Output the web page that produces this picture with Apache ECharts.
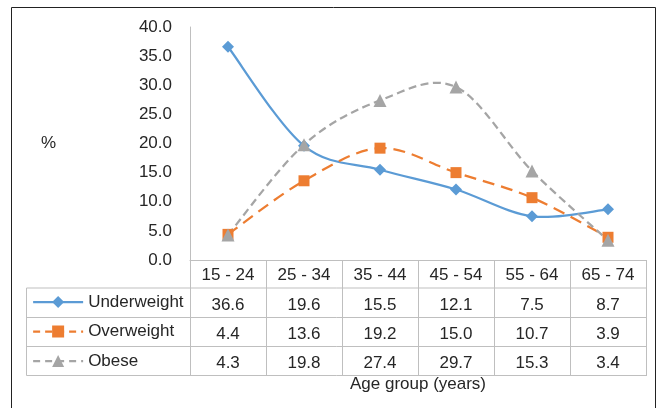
<!DOCTYPE html>
<html><head><meta charset="utf-8">
<script src="https://cdn.jsdelivr.net/npm/echarts@6/dist/echarts.min.js"></script>
<style>html,body{margin:0;padding:0;background:#fff}#c{width:659px;height:408px}</style>
</head><body><div id="c"></div>
<script>
var categories = ['15 - 24','25 - 34','35 - 44','45 - 54','55 - 64','65 - 74'];
var underweight = [36.6, 19.6, 15.5, 12.1, 7.5, 8.7];
var overweight = [4.4, 13.6, 19.2, 15.0, 10.7, 3.9];
var obese = [4.3, 19.8, 27.4, 29.7, 15.3, 3.4];
var yTicks = [0, 5, 10, 15, 20, 25, 30, 35, 40];
var seriesNames = ['Underweight', 'Overweight', 'Obese'];

var FONT = 'Liberation Sans, Arial, sans-serif';
var FS = 17;
var TXT = '#262626';
var GRID = {left: 190, right: 13, top: 27, bottom: 148};
var W = 659, H = 408;
var plotR = W - GRID.right;         // 646
var tableL = 26.5;
var rowLines = [288, 317.5, 346.5, 375.5];
var lineCol = '#BFBFBF';
var COLORS = ['#5B9BD5', '#ED7D31', '#A5A5A5'];
var DASHES = [null, [12, 7], [8, 4.5]];

var chart = echarts.init(document.getElementById('c'), null, {renderer: 'canvas'});

function rowAxis(vals, offset) {
  return {
    type: 'category', data: vals.map(function(v){return v.toFixed(1);}),
    position: 'bottom', offset: offset, gridIndex: 0,
    axisLine: {show: false}, axisTick: {show: false},
    axisLabel: {color: TXT, fontSize: FS, fontFamily: FONT, margin: 7, interval: 0}
  };
}

// Excel-like smoothed curve (Catmull-Rom style bezier) through the points, using library scales
function smoothSeries(name, vals, idx) {
  return {
    name: name + ' curve', type: 'custom', data: vals, z: 1, silent: true,
    renderItem: function(params, api) {
      if (params.dataIndex !== 0) return null;
      var p = vals.map(function(v, i){ return api.coord([i, v]); });
      var n = p.length;
      var d = 'M' + p[0][0] + ' ' + p[0][1];
      for (var i = 0; i < n - 1; i++) {
        var p0 = p[Math.max(i - 1, 0)], p1 = p[i], p2 = p[i + 1], p3 = p[Math.min(i + 2, n - 1)];
        var c1x = p1[0] + (p2[0] - p0[0]) / 6, c1y = p1[1] + (p2[1] - p0[1]) / 6;
        var c2x = p2[0] - (p3[0] - p1[0]) / 6, c2y = p2[1] - (p3[1] - p1[1]) / 6;
        d += ' C' + c1x + ' ' + c1y + ' ' + c2x + ' ' + c2y + ' ' + p2[0] + ' ' + p2[1];
      }
      return {
        type: 'path', shape: {pathData: d},
        style: {fill: null, stroke: COLORS[idx], lineWidth: 2.25, lineDash: DASHES[idx], lineCap: 'butt'}
      };
    }
  };
}

function markerSeries(name, vals, idx, symbol, size) {
  return {
    name: name, type: 'line', data: vals, z: 3,
    symbol: symbol, symbolSize: size, showAllSymbol: true,
    color: COLORS[idx],
    lineStyle: {opacity: 0, width: 2.25, color: COLORS[idx], type: DASHES[idx] || 'solid'},
    itemStyle: {color: COLORS[idx]}
  };
}

var graphics = [
  {type: 'rect', shape: {x: 11.5, y: 7.5, width: 644, height: 420}, style: {fill: null, stroke: '#222', lineWidth: 1}, silent: true},
  {type: 'line', shape: {x1: tableL, y1: rowLines[0], x2: tableL, y2: rowLines[3]}, style: {stroke: lineCol, lineWidth: 1}}
];
rowLines.forEach(function(y){
  graphics.push({type: 'line', shape: {x1: tableL, y1: y, x2: plotR, y2: y}, style: {stroke: lineCol, lineWidth: 1}});
});

chart.setOption({
  animation: false,
  textStyle: {fontFamily: FONT},
  grid: GRID,
  legend: {
    orient: 'vertical', left: 27, top: 288,
    itemWidth: 50, itemHeight: 15, itemGap: 11.5,
    textStyle: {color: TXT, fontSize: FS, fontFamily: FONT, lineHeight: 18},
    data: seriesNames.map(function(n, i){
      return {name: n, lineStyle: {opacity: 1, width: 2.25, color: COLORS[i], type: DASHES[i] ? [7, 5] : 'solid'}};
    })
  },
  xAxis: [
    {
      type: 'category', data: categories, boundaryGap: true,
      axisLine: {lineStyle: {color: lineCol, width: 1}},
      axisTick: {show: true, length: 116, lineStyle: {color: lineCol}},
      axisLabel: {color: TXT, fontSize: FS, fontFamily: FONT, margin: 7, interval: 0},
      name: 'Age group (years)', nameLocation: 'middle', nameGap: 116,
      nameTextStyle: {color: TXT, fontSize: FS, fontFamily: FONT}
    },
    rowAxis(underweight, 29.5),
    rowAxis(overweight, 58.5),
    rowAxis(obese, 87.5)
  ],
  yAxis: {
    type: 'value', min: yTicks[0], max: yTicks[yTicks.length - 1], interval: 5,
    axisLine: {show: true, lineStyle: {color: lineCol}},
    axisTick: {show: false},
    splitLine: {show: false},
    axisLabel: {color: TXT, fontSize: FS, fontFamily: FONT, margin: 18, formatter: function(v){return v.toFixed(1);}},
    name: '%', nameLocation: 'middle', nameRotate: 0, nameGap: 134,
    nameTextStyle: {color: TXT, fontSize: FS, fontFamily: FONT}
  },
  series: [
    smoothSeries('Underweight', underweight, 0),
    smoothSeries('Overweight', overweight, 1),
    smoothSeries('Obese', obese, 2),
    markerSeries('Underweight', underweight, 0, 'diamond', 12),
    markerSeries('Overweight', overweight, 1, 'rect', 11),
    markerSeries('Obese', obese, 2, 'triangle', 13)
  ],
  graphic: graphics
});
</script></body></html>
